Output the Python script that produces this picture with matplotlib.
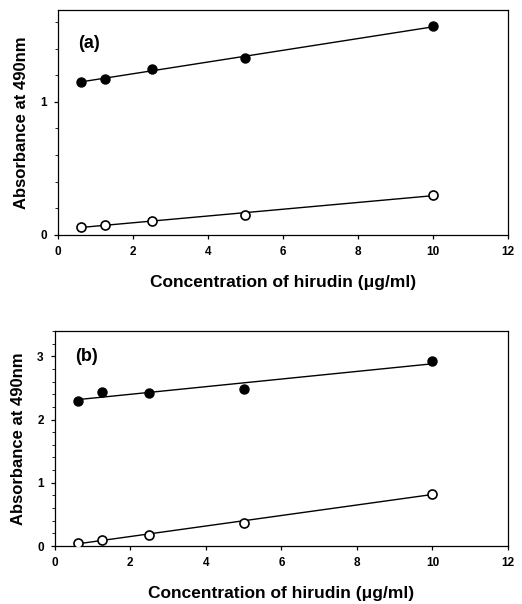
import numpy as np
import matplotlib
matplotlib.use("Agg")
import matplotlib.pyplot as plt
from matplotlib.ticker import MultipleLocator

conc = [0.625, 1.25, 2.5, 5, 10]
a_filled = [1.15, 1.175, 1.245, 1.33, 1.567]
a_open = [0.062, 0.075, 0.105, 0.152, 0.302]
b_filled = [2.30, 2.43, 2.42, 2.49, 2.92]
b_open = [0.05, 0.10, 0.18, 0.37, 0.83]
xticks = [0, 2, 4, 6, 8, 10, 12]

plt.rcParams['font.family'] = ['Liberation Sans', 'DejaVu Sans']
plt.rcParams['font.weight'] = 'bold'

fig = plt.figure(figsize=(5.22, 6.04), dpi=100)
ax_a = fig.add_axes([0.111, 0.611, 0.862, 0.3725])
ax_b = fig.add_axes([0.105, 0.096, 0.868, 0.356])

def draw(ax, filled, opn, ymax, yticks, label, ly):
    x = np.array(conc)
    xs = np.array([conc[0], conc[-1]])
    for ys in (filled, opn):
        p = np.polyfit(x, ys, 1)
        ax.plot(xs, np.polyval(p, xs), color='black', lw=1.0, zorder=2)
    ax.plot(conc, filled, 'o', ms=6.5, mfc='black', mec='black', zorder=3)
    ax.plot(conc, opn, 'o', ms=6.5, mfc='white', mec='black', mew=1.2, zorder=3)
    ax.set_xlim(0, 12)
    ax.set_ylim(0, ymax)
    ax.set_xticks(xticks)
    ax.set_yticks(yticks)
    ax.yaxis.set_minor_locator(MultipleLocator(0.2))
    ax.tick_params(axis='both', which='major', direction='out', length=3, width=0.9, labelsize=8.5, pad=5)
    ax.tick_params(axis='y', which='minor', direction='out', length=2, width=0.6)
    for lab in ax.get_xticklabels() + ax.get_yticklabels():
        lab.set_fontweight('bold')
    for s in ax.spines.values():
        s.set_linewidth(0.9)
    ax.set_xlabel('Concentration of hirudin (\u03bcg/ml)', fontsize=12.5, fontweight='bold', labelpad=12)
    ax.set_ylabel('Absorbance at 490nm', fontsize=12, fontweight='bold', labelpad=8)
    ax.text(0.045, ly, label, transform=ax.transAxes, fontsize=13, fontweight='bold', va='center')

draw(ax_a, a_filled, a_open, 1.69, [0, 1], '(a)', 0.853)
draw(ax_b, b_filled, b_open, 3.40, [0, 1, 2, 3], '(b)', 0.88)

fig.savefig('out.png', dpi=100)
